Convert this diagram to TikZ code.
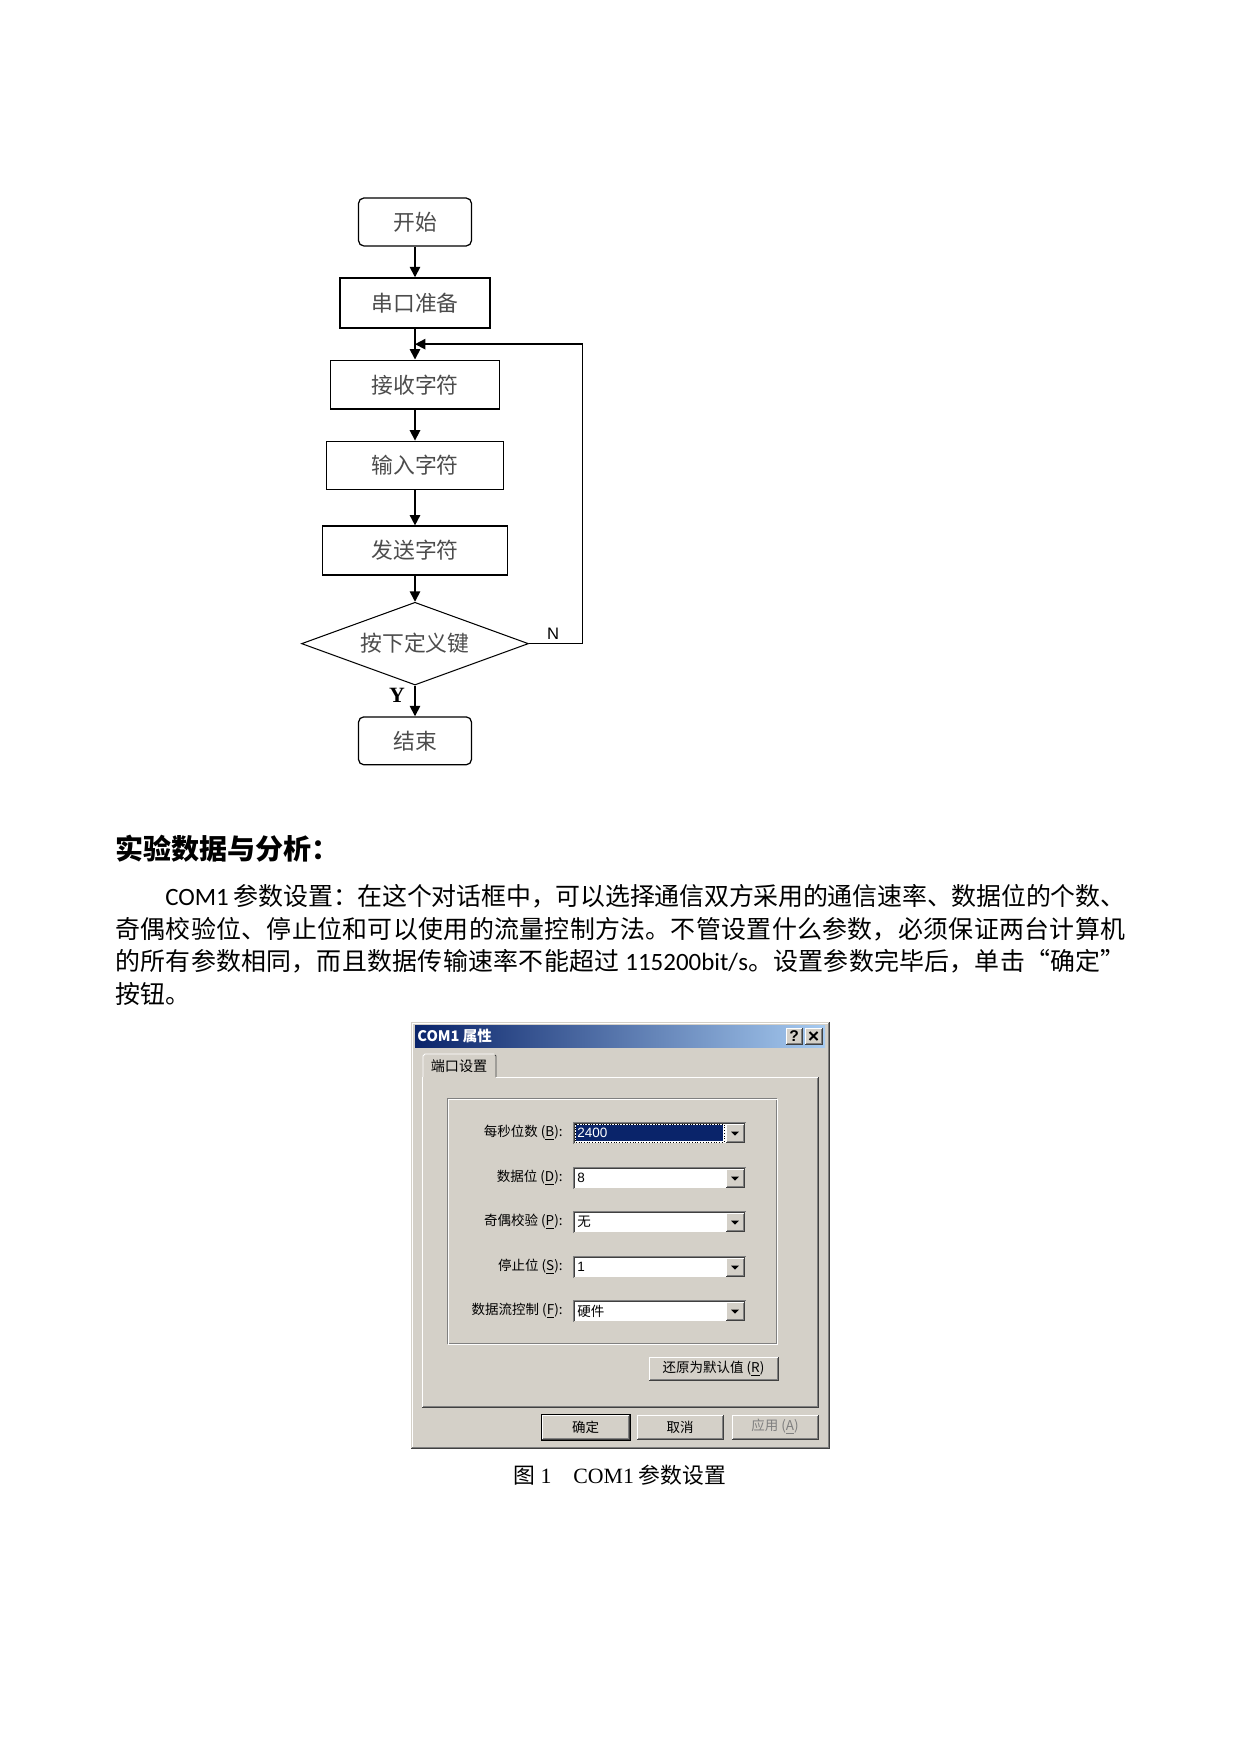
\documentclass[tikz,border=0pt]{standalone}
\usepackage{fontspec}
\setmainfont{Noto Sans CJK SC}
\newfontfamily\calib{Carlito}
\newfontfamily\tnr{Liberation Serif}
\newfontfamily\arial{Liberation Sans}
\XeTeXlinebreaklocale "zh"
\XeTeXlinebreakskip = 0pt plus 1pt minus 0.35pt
\usetikzlibrary{arrows.meta,positioning,shapes.geometric}
\definecolor{winface}{HTML}{D4D0C8}
\definecolor{winshadow}{HTML}{808080}
\definecolor{windark}{HTML}{404040}
\definecolor{titledark}{HTML}{0A246A}
\definecolor{titlelight}{HTML}{A6CAF0}
\tikzstyle{terminal} = [rectangle, rounded corners=2.5pt, draw=black, line width=0.6pt, minimum width=1.91cm, minimum height=0.81cm, align=center, font=\fontsize{10.5}{12}\selectfont, text=black!70]
\tikzstyle{process} = [rectangle, draw=black, line width=0.9pt, minimum height=0.82cm, align=center, font=\fontsize{10.5}{12}\selectfont, text=black!70]
\tikzstyle{decision} = [diamond, draw=black, line width=0.5pt, minimum width=3.84cm, minimum height=1.4cm, inner sep=0pt, aspect=2.8, font=\fontsize{10.5}{12}\selectfont, text=black!70]
\tikzstyle{arrow} = [-{Triangle[length=5pt,width=5pt]}, line width=0.8pt]
\tikzstyle{wintext} = [inner sep=0pt, font=\fontsize{6.5}{7}\selectfont]
% raised and sunken 3d boxes: x1, y1, x2, y2
\newcommand{\raisedrect}[4]{%
  \fill[winface] (#1,#2) rectangle (#3,#4);
  \draw[white] (#1,#4) |- (#3,#2);
  \draw[windark] (#1,#4) -| (#3,#2);
  \draw[winshadow] (#1+1,#4-1) -| (#3-1,#2+1);
}
\newcommand{\sunkenfield}[4]{%
  \fill[white] (#1,#2) rectangle (#3,#4);
  \draw[winshadow] (#1,#4) |- (#3,#2);
  \draw[windark] (#1+1,#4-1) |- (#3-1,#2+1);
  \draw[winface] (#1+1,#4-1) -| (#3-1,#2+1);
}
% y, name, label, key, value, highlight
\newcommand{\combobox}[6]{%
  \sunkenfield{573}{#1-11}{746}{#1+11}
  \fill[#6] (576,#1-8) rectangle (723,#1+8);
  \raisedrect{726}{#1-9}{744}{#1+9}
  \fill (731,#1-1.5) -- (739,#1-1.5) -- (735,#1+2.5) -- cycle;
  \node[wintext, anchor=east] (#2lab) at (563,#1) {#3 (\underline{#4}):};
  \node[wintext, anchor=west] (#2val) at (577,#1) {#5};
}
\begin{document}
\begin{tikzpicture}[x=0.016922cm, y=-0.016922cm, node distance=0.52cm]
\useasboundingbox (0,0) rectangle (1241,1755);
% flow chart
\node[terminal] (start) at (415,222) {开始};
\node[process, minimum width=2.54cm, minimum height=0.84cm, below=of start] (prep) {串口准备};
\node[process, minimum width=2.86cm, below=of prep] (recv) {接收字符};
\node[process, minimum width=3.0cm, line width=0.45pt, below=of recv] (input) {输入字符};
\node[process, minimum width=3.13cm, below=0.6cm of input] (send) {发送字符};
\node[decision, below=0.44cm of send] (press) {按下定义键};
\node[terminal, below=of press] (stop) {结束};
\coordinate[below=0.26cm of prep.south] (looptop);
\coordinate[right=0.91cm of press.east] (nright);

\draw[arrow] (start) -- (prep);
\draw[arrow] (prep) -- (recv);
\draw[arrow] (recv) -- (input);
\draw[arrow] (input) -- (send);
\draw[arrow] (send) -- (press);
\draw[arrow] (press) -- (stop);
\draw[line width=0.5pt] (press.east) -- (nright) -- (nright |- looptop);
\draw[arrow] (nright |- looptop) -- (looptop);
\node[inner sep=0pt, font=\arial\fontsize{8}{9}\selectfont] (nlab) at (553,634) {N};
\node[inner sep=0pt, font=\tnr\bfseries\fontsize{10.5}{12}\selectfont] (ylab) at (397,695) {Y};

% text
\node[anchor=west, inner sep=0pt, font=\fontsize{13.5}{15}\selectfont\bfseries] (heading) at (115,849) {实验数据与分析：};
\node[anchor=north west, inner sep=0pt, text width=17.09cm, align=justify, font=\fontsize{12}{15.65}\selectfont] (para) at (115,884) {\hspace*{2em}{\calib COM1} 参数设置：在这个对话框中，可以选择通信双方采用的通信速率、数据位的个数、\linebreak
奇偶校验位、停止位和可以使用的流量控制方法。不管设置什么参数，必须保证两台计算机\linebreak
的所有参数相同，而且数据传输速率不能超过 {\calib 115200bit/s}。设置参数完毕后，单击“确定”\linebreak
按钮。};

% dialog
\fill[winface] (411,1022) rectangle (829,1448);
\draw[white] (412,1447) |- (828,1023);
\draw[windark] (411,1448) -| (829,1022);
\draw[winshadow] (412,1447) -| (828,1023);
\shade[left color=titledark, right color=titlelight] (415,1025) rectangle (825,1047);
\node[anchor=west, inner sep=0pt, text=white, font=\fontsize{7}{8}\selectfont\bfseries] (title) at (417,1036) {COM1 属性};
\raisedrect{786}{1028}{802}{1044}
\node[inner sep=0pt, font=\arial\bfseries\fontsize{7.5}{8}\selectfont] (helpbtn) at (794,1036) {?};
\raisedrect{805}{1028}{822}{1044}
\draw[line width=1pt] (809.5,1032) -- (817.5,1040) (809.5,1040) -- (817.5,1032);
% tab and panel
\fill[winface] (423,1078) -- (423,1056) -- (425,1054) -- (494,1054) -- (496,1056) -- (496,1078) -- cycle;
\draw[white] (423,1077) -- (423,1056) -- (425,1054) -- (494,1054);
\draw[windark] (495,1055) -- (496,1056) -- (496,1077);
\node[wintext, font=\fontsize{6.8}{7}\selectfont] (tab) at (459,1066) {端口设置};
\draw[white] (422,1407) -- (422,1077) -- (423,1077) (496,1077) -- (818,1077);
\draw[windark] (422,1407) -| (818,1077);
\draw[winshadow] (423,1406) -| (817,1078);
\draw[winshadow] (447,1098) rectangle (776,1343);
\draw[white] (448,1099) rectangle (777,1344);
\combobox{1133}{baud}{每秒位数}{B}{\textcolor{white}{\arial 2400}}{titledark}
\draw[densely dotted, line width=0.3pt] (575,1124) rectangle (724,1142);
\combobox{1178}{data}{数据位}{D}{\arial 8}{white}
\combobox{1222}{parity}{奇偶校验}{P}{无}{white}
\combobox{1267}{stopbit}{停止位}{S}{\arial 1}{white}
\combobox{1311}{flow}{数据流控制}{F}{硬件}{white}
% buttons
\raisedrect{649}{1357}{778}{1380}
\node[wintext] (reset) at (713.5,1368.5) {还原为默认值 (\underline{R})};
\draw[black] (541,1414) rectangle (630,1440);
\raisedrect{542}{1415}{629}{1439}
\node[wintext] (okbtn) at (585.5,1427) {确定};
\raisedrect{637}{1415}{723}{1439}
\node[wintext] (cancelbtn) at (680,1427) {取消};
\raisedrect{732}{1415}{818}{1439}
\node[wintext, text=winshadow] (applybtn) at (775,1427) {应用 (\underline{A})};

% caption
\node[inner sep=0pt, font=\fontsize{10.5}{12}\selectfont] (caption) at (620,1475) {图 {\tnr 1}\quad{\tnr COM1} 参数设置};
\end{tikzpicture}
\end{document}
